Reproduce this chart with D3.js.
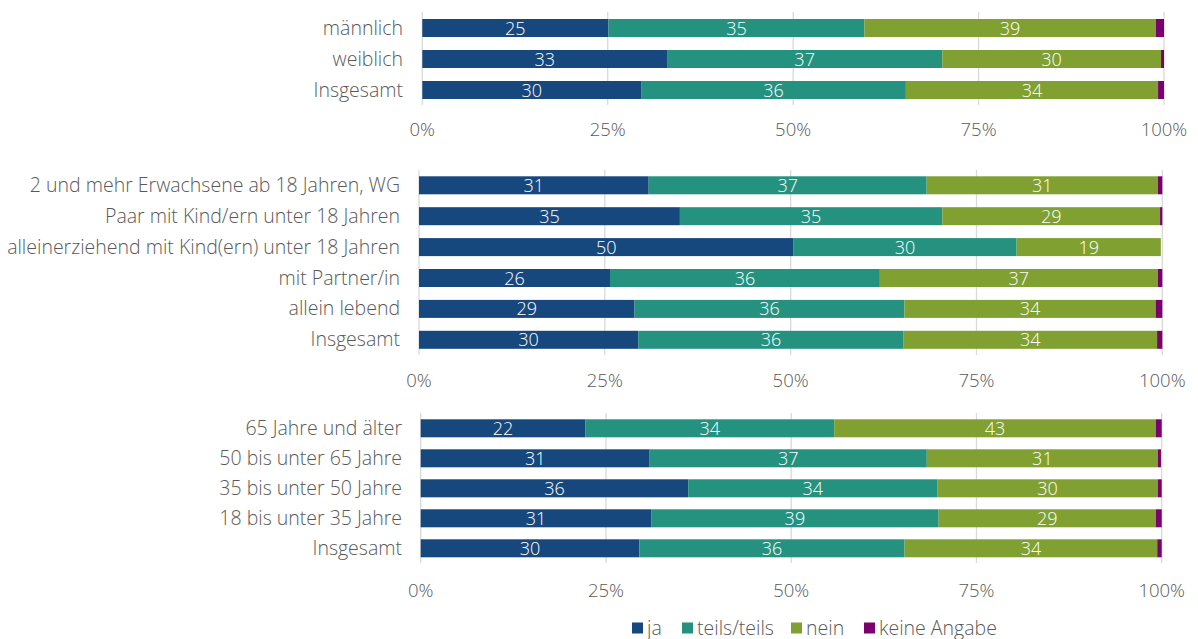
<!DOCTYPE html>
<html><head><meta charset="utf-8">
<script src="https://cdn.jsdelivr.net/npm/d3@7"></script>
<style>body{margin:0;background:#fff}svg{display:block}text{font-family:"Open Sans",sans-serif;font-weight:300}</style>
</head><body><svg id="c" width="1198" height="639"></svg>
<script>
const seriesNames = ["ja", "teils/teils", "nein", "keine Angabe"];
const colors = ["#17487d", "#24927f", "#80a032", "#7a006f"];
const ticks = [0, 25, 50, 75, 100];
const tickLabels = ["0%", "25%", "50%", "75%", "100%"];

const cats1 = ["männlich", "weiblich", "Insgesamt"];
const ja1 =    [25.1, 33.0, 29.5];
const teils1 = [34.5, 37.1, 35.7];
const nein1 =  [39.3, 29.5, 34.0];
const ka1 =    [1.1, 0.4, 0.8];

const cats2 = ["2 und mehr Erwachsene ab 18 Jahren, WG", "Paar mit Kind/ern unter 18 Jahren",
  "alleinerziehend mit Kind(ern) unter 18 Jahren", "mit Partner/in", "allein lebend", "Insgesamt"];
const ja2 =    [30.9, 35.1, 50.4, 25.7, 29.0, 29.5];
const teils2 = [37.4, 35.3, 30.0, 36.3, 36.3, 35.7];
const nein2 =  [31.1, 29.3, 19.4, 37.4, 33.8, 34.1];
const ka2 =    [0.6, 0.3, 0.0, 0.6, 0.9, 0.7];

const cats3 = ["65 Jahre und älter", "50 bis unter 65 Jahre", "35 bis unter 50 Jahre",
  "18 bis unter 35 Jahre", "Insgesamt"];
const ja3 =    [22.2, 30.9, 36.1, 31.1, 29.5];
const teils3 = [33.6, 37.4, 33.6, 38.8, 35.8];
const nein3 =  [43.4, 31.2, 29.8, 29.3, 34.1];
const ka3 =    [0.8, 0.4, 0.5, 0.8, 0.6];

const svg = d3.select("#c");
const txt = "#595959";

function panel(cats, series, x0, x1, yTop, yBot, barTop, step, labelRight, tickY) {
  const x = d3.scaleLinear().domain([0, 100]).range([x0, x1]);
  const bh = 18;
  const y = d3.scalePoint().domain(cats).range([barTop, barTop + step * (cats.length - 1)]);
  const g = svg.append("g");
  g.selectAll("line.grid").data(ticks).join("line")
    .attr("x1", d => x(d)).attr("x2", d => x(d))
    .attr("y1", yTop).attr("y2", yBot)
    .attr("stroke", "#d9d9d9").attr("stroke-width", 1.3);
  const segs = cats.map((c, i) => {
    let acc = 0;
    return series.map((s, k) => { const v = s[i]; const o = {cat: c, k, v, start: acc}; acc += v; return o; });
  }).flat();
  g.selectAll("rect.seg").data(segs.filter(d => d.v > 0)).join("rect")
    .attr("x", d => x(d.start)).attr("width", d => x(d.start + d.v) - x(d.start))
    .attr("y", d => y(d.cat)).attr("height", bh)
    .attr("fill", d => colors[d.k]);
  g.selectAll("text.val").data(segs.filter(d => d.k < 3 && d.v > 3)).join("text")
    .attr("x", d => x(d.start + d.v / 2)).attr("y", d => y(d.cat) + bh / 2 + 6.5)
    .attr("text-anchor", "middle").attr("fill", "#fff").attr("font-size", 18)
    .text(d => Math.round(d.v));
  g.selectAll("text.cat").data(cats).join("text")
    .attr("x", labelRight).attr("y", d => y(d) + bh / 2 + 6.5)
    .attr("text-anchor", "end").attr("fill", txt).attr("font-size", 19.5)
    .text(d => d);
  g.selectAll("text.tick").data(ticks).join("text")
    .attr("x", d => x(d)).attr("y", tickY + 6.5)
    .attr("text-anchor", "middle").attr("fill", txt).attr("font-size", 18.5)
    .text((d, i) => tickLabels[i]);
}

panel(cats1, [ja1, teils1, nein1, ka1], 422.3, 1164, 12, 105, 19, 31, 403, 129);
panel(cats2, [ja2, teils2, nein2, ka2], 419, 1162.3, 170, 355, 176.3, 30.9, 400, 380);
panel(cats3, [ja3, teils3, nein3, ka3], 420.7, 1161.7, 413, 563, 419.3, 30, 402, 590);

const legX = [632, 682, 791, 864];
const lg = svg.append("g");
seriesNames.forEach((n, i) => {
  lg.append("rect").attr("x", legX[i]).attr("y", 622.5).attr("width", 11).attr("height", 11).attr("fill", colors[i]);
  lg.append("text").attr("x", legX[i] + 15).attr("y", 634.5).attr("fill", txt).attr("font-size", 19.5).text(n);
});
</script></body></html>
